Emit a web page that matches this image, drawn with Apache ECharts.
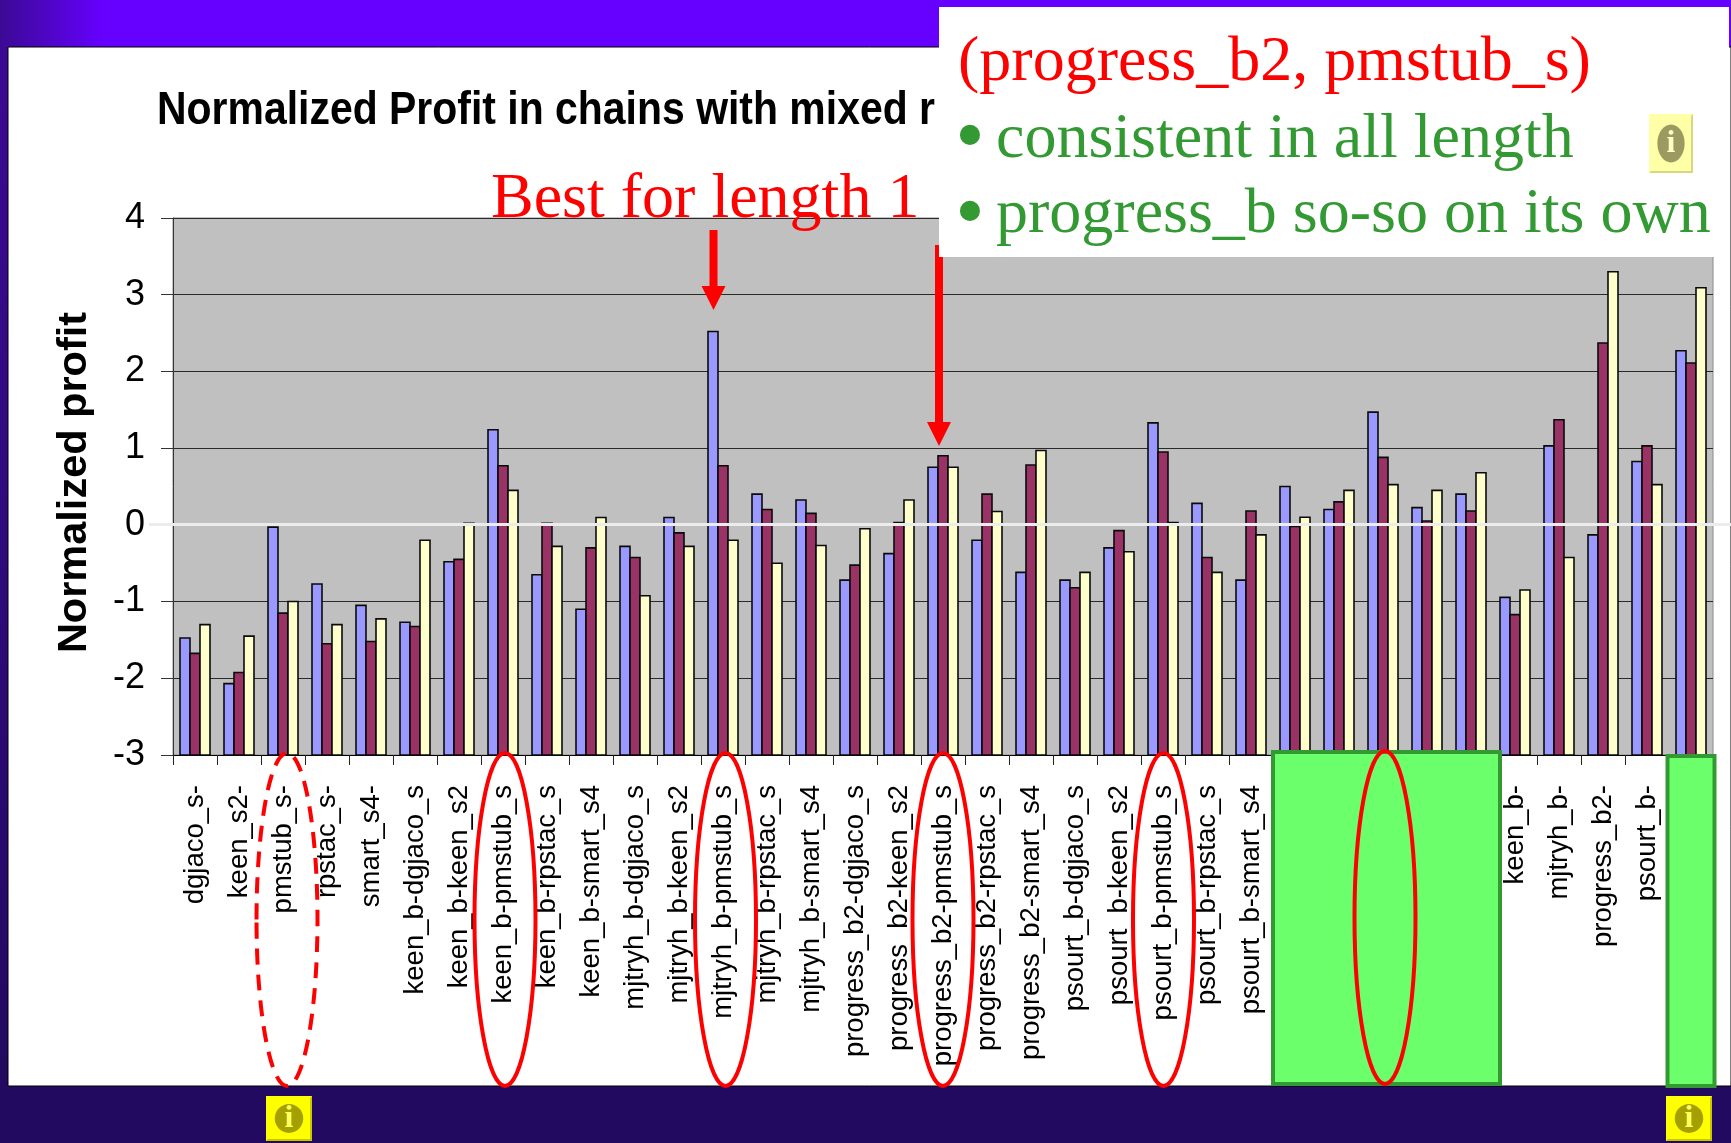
<!DOCTYPE html>
<html><head><meta charset="utf-8">
<script src="https://cdn.jsdelivr.net/npm/echarts@6/dist/echarts.min.js"></script>
<style>html,body{margin:0;padding:0;background:#fff}#c{width:1731px;height:1143px}</style>
</head><body><div id="c"></div>
<script>
const categories = ['dgjaco_s-','keen_s2-','pmstub_s-','rpstac_s-','smart_s4-',
 'keen_b-dgjaco_s','keen_b-keen_s2','keen_b-pmstub_s','keen_b-rpstac_s','keen_b-smart_s4',
 'mjtryh_b-dgjaco_s','mjtryh_b-keen_s2','mjtryh_b-pmstub_s','mjtryh_b-rpstac_s','mjtryh_b-smart_s4',
 'progress_b2-dgjaco_s','progress_b2-keen_s2','progress_b2-pmstub_s','progress_b2-rpstac_s','progress_b2-smart_s4',
 'psourt_b-dgjaco_s','psourt_b-keen_s2','psourt_b-pmstub_s','psourt_b-rpstac_s','psourt_b-smart_s4',
 '','','','','',
 'keen_b-','mjtryh_b-','progress_b2-','psourt_b-',''];
const seriesA = [-1.475,-2.07,-0.03,-0.77,-1.05,-1.27,-0.48,1.24,-0.65,-1.1,-0.28,0.095,2.52,0.4,0.325,-0.72,-0.375,0.75,-0.2,-0.62,-0.72,-0.3,1.33,0.28,-0.72,0.5,0.2,1.47,0.225,0.4,-0.945,1.03,-0.13,0.825,2.27];
const seriesB = [-1.675,-1.925,-1.15,-1.55,-1.52,-1.325,-0.45,0.77,0.02,-0.3,-0.425,-0.105,0.77,0.2,0.15,-0.525,0.03,0.9,0.4,0.78,-0.82,-0.075,0.95,-0.425,0.18,-0.02,0.3,0.88,0.05,0.18,-1.17,1.37,2.37,1.03,2.11];
const seriesC = [-1.3,-1.45,-1.0,-1.3,-1.225,-0.2,0.02,0.45,-0.28,0.095,-0.925,-0.28,-0.2,-0.5,-0.27,-0.05,0.325,0.75,0.175,0.97,-0.62,-0.35,0.03,-0.62,-0.13,0.1,0.45,0.525,0.45,0.68,-0.85,-0.425,3.3,0.525,3.09];
const seriesColors = ['#9999ff','#993366','#ffffcc'];
const AXIS_MIN = -3, BAR_W = 10;
const SERIF = '"Liberation Serif"', SANS = '"Liberation Sans"';

// Columns rise from the axis minimum (the axis crosses at -3), so they are
// drawn through the chart's own scales with a custom series.
function bar(values, color, slot){
  return {type:'custom', clip:false, encode:{x:0,y:1},
    data:values.map((v,i)=>[i,v]),
    renderItem(params, api){
      const top = api.coord([api.value(0), api.value(1)]);
      const base = api.coord([api.value(0), AXIS_MIN]);
      const x = Math.round(top[0] + slot*BAR_W - BAR_W/2);
      return {type:'rect', shape:{x, y:top[1], width:BAR_W, height:base[1]-top[1]},
        style:{fill:color, stroke:'#0a0a0a', lineWidth:1.6}};
    }};
}
const red='#ff0000', green='#339933';
function txt(text,x,y,size,fill,z){return {type:'text',z:z||50,style:{text,x,y,fill,font:size+'px '+SERIF}};}
function ell(cx,top,bottom,dash){return {type:'ellipse',z:60,shape:{cx,cy:(top+bottom)/2,rx:30.5,ry:(bottom-top)/2},
  style:{fill:null,stroke:red,lineWidth:4,lineDash:dash?[16,10]:null}};}
function arrow(x,y1,yBase,yTip,z){return [
  {type:'rect',z:z,shape:{x:x-4,y:y1,width:8,height:yBase-y1},style:{fill:red}},
  {type:'polygon',z:z,shape:{points:[[x-12,yBase],[x+12,yBase],[x,yTip]]},style:{fill:red}}];}
function info(x,y,w,h,bg,dark,oval,glyph){return [
  {type:'rect',z:70,shape:{x,y,width:w,height:h},style:{fill:bg}},
  {type:'polygon',z:70,shape:{points:[[x+w,y],[x+w,y+h],[x,y+h],[x+2,y+h-2],[x+w-2,y+h-2],[x+w-2,y+2]]},style:{fill:dark}},
  {type:'ellipse',z:71,shape:{cx:x+w/2,cy:y+h/2,rx:w*0.31,ry:h*0.32},style:{fill:oval}},
  {type:'text',z:72,style:{text:'i',x:x+w/2,y:y+h/2,fill:glyph,font:'bold 32px '+SERIF,align:'center',verticalAlign:'middle'}}];}

const elements = [
  {type:'rect',z:-10,shape:{x:0,y:0,width:1731,height:1143},style:{fill:'#fff'}},
  {type:'rect',z:-9,shape:{x:0,y:0,width:1731,height:47},style:{fill:{type:'linear',x:0,y:0,x2:1,y2:0,colorStops:[{offset:0,color:'#3b0a94'},{offset:0.06,color:'#6600ff'},{offset:1,color:'#6600ff'}]}}},
  {type:'rect',z:-9,shape:{x:0,y:47,width:8,height:1040},style:{fill:{type:'linear',x:0,y:0,x2:0,y2:1,colorStops:[{offset:0,color:'#3b0a94'},{offset:1,color:'#220a60'}]}}},
  {type:'rect',z:-9,shape:{x:0,y:1086,width:1731,height:57},style:{fill:'#220a60'}},
  {type:'rect',z:-8,shape:{x:8,y:47,width:1723,height:1039},style:{fill:null,stroke:'#000',lineWidth:1}},
  // title, condensed like the original
  {type:'text',z:20,x:157,y:88,scaleX:0.89,style:{text:'Normalized Profit in chains with mixed r',x:0,y:0,fill:'#000',font:'bold 46px '+SANS}},
  // zero line over the bars
  {type:'rect',z:40,shape:{x:149,y:523,width:1582,height:3},style:{fill:'#ececec'}},
  ...arrow(713.5,230,286,310,45),
  ...arrow(939,245,422,446,45),
  // callout
  {type:'rect',z:48,shape:{x:939,y:7,width:790,height:250},style:{fill:'#fff'}},
  txt('(progress_b2, pmstub_s)',958,31,64,red),
  {type:'text',z:50,style:{text:'•',x:970,y:141,fill:green,font:'84px '+SERIF,align:'center',verticalAlign:'middle'}},
  txt('consistent in all length',996,108,64,green),
  {type:'text',z:50,style:{text:'•',x:970,y:217,fill:green,font:'84px '+SERIF,align:'center',verticalAlign:'middle'}},
  txt('progress_b so-so on its own',996,183,64,green),
  txt('Best for length 1',491,168,64,red,47),
  // green boxes
  {type:'rect',z:55,shape:{x:1273,y:752,width:227,height:332},style:{fill:'#6cff6c',stroke:green,lineWidth:4}},
  {type:'rect',z:55,shape:{x:1667.5,y:756,width:47,height:330},style:{fill:'#6cff6c',stroke:green,lineWidth:4}},
  ell(287,753,1086,true), ell(505,753,1086), ell(725.5,753,1086), ell(943,753,1086), ell(1163.5,753,1086), ell(1385,751,1084),
  ...info(1649,114,44,59,'#ffffa8','#d8d880','#9c9a60','#ffffc8'),
  ...info(266,1096,46,45,'#ffff00','#c8c800','#a3a000','#ffff60'),
  ...info(1666,1096,46,45,'#ffff00','#c8c800','#a3a000','#ffff60')
];

const chart = echarts.init(document.getElementById('c'),null,{renderer:'canvas'});
chart.setOption({
  animation:false,
  grid:{left:173,right:18,top:218,bottom:388,show:true,backgroundColor:'#c0c0c0',borderColor:'#8a8a8a',borderWidth:1},
  xAxis:{type:'category',data:categories,
    axisLine:{onZero:false,lineStyle:{color:'#000',width:1}},
    axisTick:{show:true,length:10,alignWithLabel:false,lineStyle:{color:'#222'}},
    axisLabel:{interval:0,rotate:90,margin:30,padding:[5,0,0,0],fontFamily:SANS,fontSize:27.5,color:'#000',hideOverlap:false},
    splitLine:{show:false}},
  yAxis:{type:'value',min:AXIS_MIN,max:4,interval:1,
    name:'Normalized profit',nameLocation:'middle',nameGap:77,nameRotate:90,
    nameTextStyle:{fontFamily:SANS,fontWeight:'bold',fontSize:41.5,color:'#000',padding:[0,0,0,8]},
    axisLine:{show:true,onZero:false,lineStyle:{color:'#333',width:1}},
    axisTick:{show:true,length:12,lineStyle:{color:'#333'}},
    axisLabel:{margin:28,fontFamily:SANS,fontSize:36,color:'#000'},
    splitLine:{show:true,lineStyle:{color:'#2a2a2a',width:1}}},
  series:[bar(seriesA,seriesColors[0],-1),bar(seriesB,seriesColors[1],0),bar(seriesC,seriesColors[2],1)],
  graphic:{elements}
});
</script></body></html>
